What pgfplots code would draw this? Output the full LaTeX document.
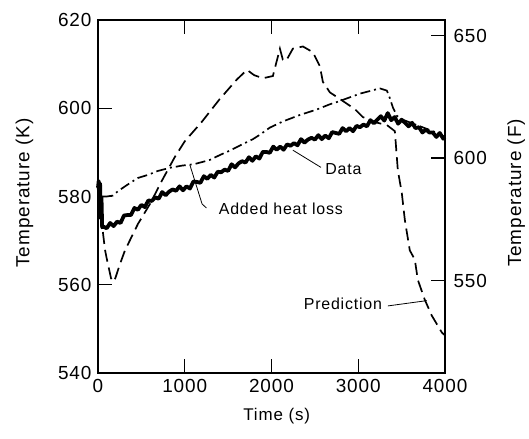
\documentclass[border=0pt]{standalone}
\usepackage{fontspec}
\setmainfont{Liberation Sans}[LetterSpace=5]
\usepackage{pgfplots}
\pgfplotsset{compat=1.18}
\pgfplotstableread{
t T
0 582
8 583.5
16 577
24 583
32 575
40 580
48 573
60 573.2
100 572.8
140 574.0
180 573.3
220 574.3
260 574.0
300 575.7
340 575.8
380 575.8
420 577.4
460 577.0
500 578.1
540 577.6
580 579.1
620 579.0
660 579.8
700 579.5
740 581.0
780 580.3
820 581.1
860 581.6
900 581.3
940 582.3
980 581.4
1020 582.3
1060 581.8
1100 583.4
1140 583.3
1180 583.1
1220 584.6
1260 584.0
1300 584.9
1340 584.3
1380 585.6
1420 585.5
1460 586.1
1500 585.8
1540 587.3
1580 586.6
1620 587.5
1660 588.0
1700 587.7
1740 588.9
1780 588.1
1820 589.1
1860 588.6
1900 590.1
1940 590.1
1980 589.9
2020 591.3
2060 590.6
2100 591.3
2140 590.6
2180 591.8
2220 591.5
2260 592.1
2300 591.6
2340 593.0
2380 592.2
2420 592.9
2460 593.3
2500 592.9
2540 593.9
2580 593.0
2620 593.8
2660 593.2
2700 594.6
2740 594.4
2780 594.2
2820 595.5
2860 594.8
2900 595.5
2940 594.8
2980 596.0
3020 595.7
3060 596.3
3100 595.9
3140 597.3
3180 596.6
3220 597.4
3260 598.2
3300 597.2
3340 598.9
3380 597.3
3420 598.0
3460 596.5
3500 597.4
3540 596.7
3580 595.9
3620 596.7
3660 595.5
3700 595.7
3740 594.5
3780 595.2
3820 594.5
3860 594.5
3900 593.5
3940 594.4
3980 593.1
4000 593.4
}\datatable
\pgfplotstableread{
t T
60 580
100 580
170 580.2
230 581.2
334 582.6
460 584.2
576 584.9
691 585.8
830 586.5
968 587
1100 587.3
1200 587.8
1290 588.3
1405 589.4
1520 590.4
1670 591.9
1786 593
1866 594
1980 595.6
2130 597
2330 598.5
2520 599.7
2673 600.9
2753 601.4
3018 603.3
3249 604.5
3330 604
3364 602.3
3399 600.2
3445 598.3
3500 597.5
3700 596
3900 594.5
4000 593.5
}\heatloss
\pgfplotstableread{
t T
30 576
50 573
80 568
100 566
150 561.5
175 560.7
200 561.5
250 564.5
311 567.8
461 573.8
599 578.3
737 583.6
887 589.0
1000 592.5
1200 597
1400 602
1600 606.5
1717 608.7
1800 607.5
1900 606.8
2016 607.3
2097 613.5
2131 611
2170 610.8
2246 613.5
2362 614
2477 612.7
2558 609.5
2592 606
2673 603.6
2788 602.1
2961 599.8
3053 598.0
3200 596.8
3330 596.2
3422 594.8
3456 586
3502 580.8
3537 574.7
3594 567.8
3652 565.7
3687 561.1
3767 556.6
3848 553.0
3963 549.2
4000 548.5
}\prediction
\begin{document}
\begin{tikzpicture}[font=\fontsize{19}{22}\selectfont]
\path[use as bounding box] (-98bp,-66bp) rectangle (431bp,373bp);
\begin{axis}[at={(0,0)}, anchor=south west, scale only axis,
  width=347bp, height=353bp,
  xmin=0, xmax=4000, ymin=540, ymax=620,
  xtick={0,1000,2000,3000,4000}, ytick={540,560,580,600,620},
  ytick pos=left, xtick pos=both, xticklabel pos=lower,
  tick align=inside, major tick length=14bp,
  axis line style={line width=1.4pt},
  every tick/.style={line width=1.4pt, black},
  /pgf/number format/assume math mode=true,
  /pgf/number format/set thousands separator={},
  scaled x ticks=false,
  xticklabel style={yshift=-3bp},
  yticklabel style={xshift=-3bp},
  xlabel={Time (s)}, ylabel={Temperature (K)},
  every axis x label/.style={at={(axis description cs:0.515,-0.122)}, anchor=center, font=\fontsize{17}{20}\selectfont},
  every axis y label/.style={at={(axis description cs:-0.212,0.51)}, rotate=90, anchor=center},
  clip=false,
]
\addplot[black, line width=1.7pt, dash pattern=on 12bp off 6bp] table[x=t,y=T] {\prediction};
\addplot[black, line width=1.7pt, dash pattern=on 10bp off 4bp on 2bp off 4bp] table[x=t,y=T] {\heatloss};
\addplot[black, line width=3.8pt, line join=round] table[x=t,y=T] {\datatable};
\draw[line width=0.8pt] (axis cs:2246,590.5) -- (axis cs:2570,586.6);
\node[anchor=west, font=\fontsize{16}{19}\selectfont] at (axis cs:2580,586.2) {Data};
\draw[line width=0.8pt] (axis cs:1060,587.1) -- (axis cs:1200,578.3) -- (axis cs:1250,577.4);
\node[font=\fontsize{16}{19}\selectfont] at (axis cs:2108,577.2) {Added heat loss};
\draw[line width=0.8pt] (axis cs:3341,555.2) -- (axis cs:3790,556.4);
\node[font=\fontsize{16}{19}\selectfont] at (axis cs:2823,555.7) {Prediction};
\end{axis}
\begin{axis}[at={(0,0)}, anchor=south west, scale only axis,
  width=347bp, height=353bp,
  xmin=0, xmax=4000, ymin=512.33, ymax=656.33,
  axis y line*=right, hide x axis,
  ytick={550,600,650},
  tick align=inside, major tick length=14bp,
  axis line style={line width=1.4pt},
  every tick/.style={line width=1.4pt, black},
  /pgf/number format/assume math mode=true,
  yticklabel style={xshift=5bp},
  ylabel={Temperature (F)},
  every axis y label/.style={at={(axis description cs:1.205,0.51)}, rotate=90, anchor=center},
]
\end{axis}
\end{tikzpicture}
\end{document}
